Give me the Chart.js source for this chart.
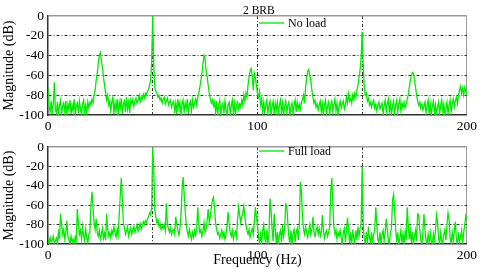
<!DOCTYPE html>
<html>
<head>
<meta charset="utf-8">
<script src="https://cdn.jsdelivr.net/npm/chart.js@4"></script>
<style>
  body { margin: 0; background: #fff; }
  #wrap { position: relative; width: 480px; height: 269px; font-family: 'Liberation Serif', serif; }
  canvas { position: absolute; left: 0; }
  .lbl { position: absolute; font-size: 12px; color: #000; white-space: nowrap; line-height: 12px; }
  .key { position: absolute; height: 2px; width: 25px; background: rgb(90, 240, 90); }
</style>
</head>
<body>
<div id="wrap">
  <canvas id="top" width="480" height="135" style="top:0"></canvas>
  <canvas id="bot" width="480" height="134" style="top:135px"></canvas>
  <div class="lbl" style="left:243px;top:4px;font-size:11.5px">2 BRB</div>
  <div class="key" style="left:259px;top:22px"></div>
  <div class="lbl" style="left:288px;top:17px">No load</div>
  <div class="key" style="left:259px;top:150px"></div>
  <div class="lbl" style="left:288px;top:145px">Full load</div>
</div>
<script>
// spectrum bins, 0.5 Hz apart, 0..200 Hz
var binHz = 0.5;
var freqHz = [];
for (var i = 0; i <= 400; i++) freqHz.push(i * binHz);

// magnitude (dB), one row = 10 Hz
var noLoad = [
  -72, -92, -97, -86, -99, -89, -67, -94, -98, -87, -100, -90, -85, -99, -91, -88, -97, -86, -100, -89,
  -95, -85, -99, -90, -96, -84, -100, -91, -88, -98, -86, -94, -100, -89, -85, -97, -90, -99, -87, -93,
  -87, -90, -84, -88, -80, -75, -65, -58, -48, -40, -37, -45, -52, -62, -70, -78, -85, -80, -90, -86,
  -96, -86, -82, -99, -88, -95, -84, -100, -87, -93, -83, -99, -89, -86, -97, -82, -94, -87, -98, -85,
  -89, -84, -91, -86, -83, -88, -85, -80, -87, -82, -84, -79, -83, -78, -80, -76, -74, -70, -65, -45,
  0, -50, -72, -76, -78, -82, -80, -85, -83, -88, -84, -82, -89, -86, -83, -90, -87, -85, -92, -88,
  -86, -96, -88, -99, -84, -93, -87, -100, -89, -85, -97, -88, -94, -84, -99, -89, -86, -96, -85, -92,
  -88, -84, -90, -82, -78, -72, -65, -58, -48, -40, -43, -55, -62, -70, -78, -84, -88, -85, -91, -87,
  -97, -86, -100, -90, -85, -99, -91, -88, -98, -86, -95, -100, -89, -87, -99, -91, -85, -97, -88, -100,
  -90, -87, -94, -89, -92, -85, -90, -80, -86, -78, -82, -70, -62, -55, -53, -60, -75, -58, -62, -70,
  -78, -82, -76, -90, -84, -96, -87, -99, -89, -85, -98, -90, -86, -100, -91, -86, -99, -88, -96, -87,
  -99, -90, -85, -97, -88, -100, -91, -86, -98, -90, -87, -100, -92, -88, -99, -90, -85, -97, -87, -94,
  -89, -94, -87, -85, -80, -88, -72, -62, -56, -54, -60, -66, -75, -82, -88, -85, -92, -89, -95, -90,
  -86, -97, -89, -100, -90, -85, -98, -91, -87, -99, -90, -86, -97, -89, -84, -96, -88, -100, -91, -86,
  -93, -89, -86, -94, -90, -82, -88, -79, -86, -83, -88, -80, -85, -78, -82, -75, -70, -62, -55, -42,
  -16, -50, -72, -80, -78, -86, -83, -90, -87, -92, -88, -85, -93, -89, -96, -90, -87, -94, -91, -88,
  -99, -90, -85, -97, -89, -84, -96, -88, -100, -91, -86, -98, -90, -85, -97, -89, -84, -96, -88, -93,
  -87, -93, -89, -84, -80, -72, -65, -60, -57, -58, -65, -72, -80, -86, -90, -87, -93, -89, -95, -91,
  -87, -98, -90, -85, -99, -89, -100, -91, -86, -98, -90, -100, -92, -87, -99, -90, -85, -97, -89, -100,
  -94, -87, -99, -90, -85, -97, -89, -84, -92, -86, -82, -88, -80, -75, -71, -78, -73, -80, -72, -76,
  -80
];

var fullLoad = [
  -95, -100, -93, -98, -96, -92, -100, -97, -94, -99, -88, -95, -69, -80, -90, -85, -95, -88, -76, -92,
  -96, -100, -92, -98, -95, -100, -93, -97, -64, -78, -90, -86, -95, -82, -91, -97, -85, -93, -99, -90,
  -88, -60, -46, -62, -78, -85, -74, -88, -92, -86, -95, -90, -84, -94, -89, -96, -69, -85, -92, -88,
  -94, -86, -90, -82, -88, -93, -85, -91, -70, -50, -32, -55, -78, -84, -90, -86, -82, -92, -87, -83,
  -90, -85, -82, -88, -84, -80, -87, -83, -79, -85, -81, -77, -80, -76, -78, -74, -72, -68, -70, -62,
  0, -25, -65, -72, -78, -75, -82, -79, -85, -81, -84, -80, -86, -58, -80, -84, -88, -83, -90, -86,
  -85, -90, -72, -80, -86, -91, -84, -70, -45, -31, -48, -65, -80, -87, -92, -85, -90, -95, -88, -93,
  -86, -91, -84, -62, -80, -88, -85, -92, -86, -78, -88, -84, -75, -64, -78, -72, -62, -55, -52, -62,
  -78, -85, -90, -88, -94, -90, -86, -93, -88, -95, -90, -80, -67, -80, -88, -92, -86, -95, -90, -87,
  -93, -75, -62, -70, -78, -72, -68, -61, -72, -80, -86, -90, -85, -93, -88, -84, -90, -78, -62, -72,
  -80, -92, -99, -90, -100, -86, -80, -94, -98, -85, -100, -89, -53, -65, -85, -97, -69, -84, -99, -88,
  -100, -90, -86, -98, -80, -92, -84, -59, -60, -78, -93, -99, -86, -100, -89, -85, -98, -88, -84, -96,
  -80, -36, -45, -72, -85, -90, -82, -88, -93, -86, -80, -90, -85, -72, -88, -92, -86, -82, -90, -84,
  -92, -88, -70, -85, -94, -89, -86, -92, -88, -82, -45, -32, -60, -82, -90, -86, -95, -88, -92, -86,
  -94, -100, -88, -84, -98, -86, -73, -85, -99, -88, -100, -85, -94, -99, -86, -96, -82, -92, -84, -80,
  -20, -80, -95, -99, -88, -100, -82, -94, -98, -88, -100, -90, -86, -62, -80, -96, -99, -88, -100, -90,
  -86, -97, -88, -74, -85, -96, -100, -88, -84, -55, -49, -65, -85, -98, -88, -100, -94, -86, -99, -89,
  -100, -88, -96, -62, -80, -95, -86, -99, -88, -100, -92, -86, -97, -69, -70, -85, -96, -100, -88, -69,
  -85, -96, -100, -90, -99, -88, -97, -100, -90, -98, -86, -70, -77, -94, -100, -88, -97, -99, -90, -85,
  -96, -80, -68, -75, -94, -100, -88, -97, -86, -77, -96, -100, -88, -98, -92, -86, -100, -88, -80, -71,
  -75
];

var xTicks = [0, 100, 200];
var yTicks = [0, -20, -40, -60, -80, -100];

var serif = 'Liberation Serif';
var green = 'rgb(0, 235, 0)';

function points(vals) {
  var out = [];
  for (var i = 0; i < freqHz.length; i++) out.push({ x: freqHz[i], y: vals[i] });
  return out;
}

function makeChart(id, vals, opts) {
  var ctx = document.getElementById(id).getContext('2d');
  return new Chart(ctx, {
    type: 'line',
    data: {
      datasets: [{
        data: points(vals),
        borderColor: green,
        borderWidth: 1.3,
        pointRadius: 0,
        tension: 0,
        fill: false
      }]
    },
    options: {
      responsive: false,
      animation: false,
      events: [],
      layout: { padding: { top: opts.padTop, right: 10, left: 0, bottom: 0 } },
      plugins: { legend: { display: false }, tooltip: { enabled: false } },
      scales: {
        x: {
          type: 'linear',
          min: 0, max: 200,
          afterFit: function (s) { s.height = opts.xHeight; },
          ticks: {
            stepSize: 50,
            padding: 3,
            color: '#000',
            font: { family: serif, size: 13.5 },
            maxRotation: 0,
            callback: function (v) { return xTicks.indexOf(v) >= 0 ? String(v) : ''; }
          },
          grid: {
            drawTicks: false,
            lineWidth: 1,
            color: function (c) {
              if (!c.tick) return '#333';
              if (c.tick.value === 0) return 'rgba(0,0,0,0)';
              if (c.tick.value === 200) return '#999';
              return '#333';
            }
          },
          border: {
            color: '#333',
            width: 1.5,
            dash: function (c) {
              return (c.tick && c.tick.value !== 200) ? [3, 2, 1, 2] : [];
            }
          },
          title: {
            display: opts.xTitle,
            text: 'Frequency (Hz)',
            color: '#000',
            font: { family: serif, size: 14 },
            padding: { top: 0, bottom: 0 }
          }
        },
        y: {
          min: -100, max: 0,
          afterFit: function (s) { s.width = 48; },
          ticks: {
            stepSize: 20,
            padding: 4,
            color: '#000',
            font: { family: serif, size: 13.5 },
            callback: function (v) { return yTicks.indexOf(v) >= 0 ? String(v) : ''; }
          },
          grid: {
            drawTicks: false,
            lineWidth: function (c) { return (c.tick && c.tick.value === 0) ? 1.5 : 1; },
            color: function (c) {
              if (!c.tick) return '#333';
              if (c.tick.value === -100) return 'rgba(0,0,0,0)';
              if (c.tick.value === 0) return '#999';
              return '#333';
            }
          },
          border: {
            color: '#333',
            width: 1.5,
            dash: function (c) {
              return (c.tick && c.tick.value !== 0) ? [3, 2, 1, 2] : [];
            }
          },
          title: {
            display: true,
            text: 'Magnitude (dB)',
            color: '#000',
            font: { family: serif, size: 14 },
            padding: { top: 1, bottom: 0 }
          }
        }
      }
    }
  });
}

makeChart('top', noLoad, { padTop: 16, xHeight: 20, xTitle: false });
makeChart('bot', fullLoad, { padTop: 10, xHeight: 25, xTitle: true });
</script>
</body>
</html>
